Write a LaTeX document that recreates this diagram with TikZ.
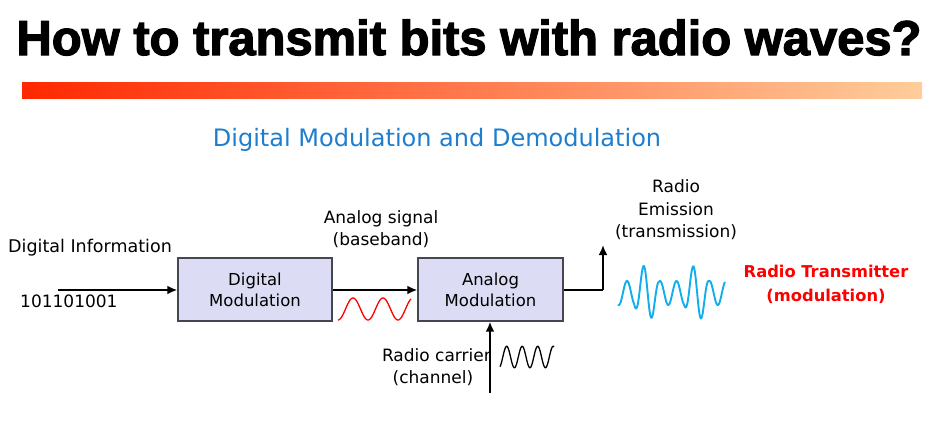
\documentclass[tikz,border=0pt]{standalone}
\usepackage{fontspec}
\setmainfont{DejaVu Sans}
\newfontfamily\titlefont[BoldFeatures={FakeBold=2.5}]{Liberation Sans}
\usetikzlibrary{arrows.meta}
\definecolor{boxfill}{RGB}{220,220,245}
\definecolor{boxline}{RGB}{70,70,80}
\definecolor{subblue}{RGB}{30,125,205}
\definecolor{wblue}{RGB}{15,175,235}
\definecolor{barL}{RGB}{255,40,0}
\definecolor{barR}{RGB}{255,205,155}
\begin{document}
\begin{tikzpicture}[x=1pt,y=-1pt,
  blk/.style={draw=boxline,line width=1.4pt,fill=boxfill,minimum width=154pt,minimum height=63pt,align=center,font=\fontsize{16.5}{21}\selectfont,inner sep=0pt},
  lbl/.style={font=\fontsize{17}{22.5}\selectfont,align=center,inner sep=0pt},
  conn/.style={line width=2.6pt,-{Latex[length=10pt,width=9pt]}}]
\useasboundingbox (0,0) rectangle (934,432);
% title
\node[inner sep=0pt,anchor=base] (title) at (469,55) {\resizebox{905pt}{!}{\titlefont\bfseries\fontsize{46}{50}\selectfont How to transmit bits with radio waves?}};
\shade[left color=barL,right color=barR] (22,82) rectangle (922,98);
\node[inner sep=0pt,font=\fontsize{24}{28}\selectfont,text=subblue] (sub) at (437,140) {Digital Modulation and Demodulation};
% boxes
\node[blk] (dm) at (255,289.5) {Digital\\Modulation};
\node[blk,minimum width=145pt] (am) at (490.5,289.5) {Analog\\Modulation};
% input
\coordinate (in) at (58,290);
\draw[conn] (in) -- (dm.west |- in);
\node[lbl,anchor=west,font=\fontsize{17.5}{22.5}\selectfont] (di) at (8,248) {Digital Information};
\node[lbl,anchor=west] (bits) at (20,301) {101101001};
% dm -> am
\draw[conn] (dm.east |- in) -- (am.west |- in);
\node[lbl] (as) at (381,229) {Analog signal\\(baseband)};
\draw[red,line width=1.3pt,domain=338:411,samples=120,smooth] plot (\x,{309+11*cos((\x-338)/30*360)});
% output
\coordinate (corner) at (603,290);
\coordinate (up) at (603,245);
\draw[line width=2.6pt] (am.east |- in) -- (corner);
\draw[conn] (corner) -- (up);
\node[lbl] (re) at (676,210) {Radio\\Emission\\(transmission)};
% blue modulated wave
\draw[wblue,line width=1.9pt,domain=618:725,samples=300,smooth] plot (\x,{293-(12+16*max(0,cos((\x-646.5)/50*360)))*sin((\x-622.9)/16.5*360)});
\node[font=\bfseries\fontsize{16.3}{24}\selectfont,text=red,align=center,inner sep=0pt] (rt) at (826,284) {Radio Transmitter\\(modulation)};
% carrier
\coordinate (cb) at (490,393);
\draw[conn] (cb) -- (am.south -| cb);
\node[lbl,anchor=east] (rc) at (491,355) {Radio carrier};
\node[lbl] (ch) at (433,378) {(channel)};
\draw[black,line width=1.3pt,domain=500:554,samples=150,smooth] plot (\x,{357-10.7*sin((\x-502.8)/15.5*360)});
\end{tikzpicture}
\end{document}
